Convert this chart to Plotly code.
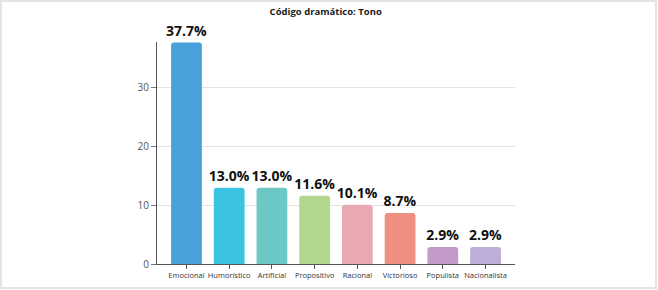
import plotly.graph_objects as go

categories = ["Emocional", "Humorístico", "Artificial", "Propositivo", "Racional", "Victorioso", "Populista", "Nacionalista"]
values = [37.7, 13.0, 13.0, 11.6, 10.1, 8.7, 2.9, 2.9]
colors = ["#4aa0d9", "#3cc3e2", "#6cc8c5", "#b3d68e", "#e8a9b2", "#ef8f80", "#c39bcb", "#bcaed8"]
labels = [f"{v:.1f}%" for v in values]
title_text = "Código dramático: Tono"
y_ticks = [0, 10, 20, 30]

W, H = 658, 290
L, R, T, B = 157, 143, 42, 26
pw, ph = W - L - R, H - T - B

fig = go.Figure(go.Bar(
    x=categories, y=values, marker=dict(color=colors, cornerradius=3, line=dict(width=0)),
    text=labels, textposition="outside", cliponaxis=False, constraintext="none",
    textfont=dict(family="Open Sans", size=14, color="#111111", weight="bold"),
))

fig.update_layout(
    width=W, height=H,
    margin=dict(l=L, r=R, t=T, b=B, autoexpand=False),
    paper_bgcolor="white", plot_bgcolor="white",
    bargap=0.28,
    showlegend=False,
    title=dict(text=f"<b>{title_text}</b>", x=0.495, xref="container", xanchor="center",
               y=1 - 12 / H, yref="container", yanchor="middle",
               font=dict(family="Open Sans", size=9.5, color="#222222")),
    font=dict(family="Open Sans"),
)
fig.update_xaxes(range=[-0.69, 7.69], showline=True, linecolor="#555555", linewidth=1,
                 ticks="outside", ticklen=4, tickcolor="#555555", tickangle=0,
                 tickfont=dict(size=7.5, color="#333333", family="Open Sans"), showgrid=False)
fig.update_yaxes(range=[0, 37.8], tickvals=y_ticks, showline=True, linecolor="#555555", linewidth=1,
                 ticks="outside", ticklen=5, tickcolor="#777777",
                 tickfont=dict(size=10, color="#555555", family="Open Sans"),
                 showgrid=True, gridcolor="#e2e2e2", gridwidth=1, zeroline=False)

# outer light frame
fig.add_shape(type="rect", xref="paper", yref="paper",
              x0=(1 - L) / pw, x1=(W - 2 - L) / pw,
              y0=-(B - 2) / ph, y1=(ph + T - 1) / ph,
              line=dict(color="#e4e4e4", width=2), fillcolor="rgba(0,0,0,0)", layer="below")

fig.write_html("out.html", config={"displayModeBar": False},
               post_script="document.body.style.margin='0';document.body.style.overflow='hidden';")
